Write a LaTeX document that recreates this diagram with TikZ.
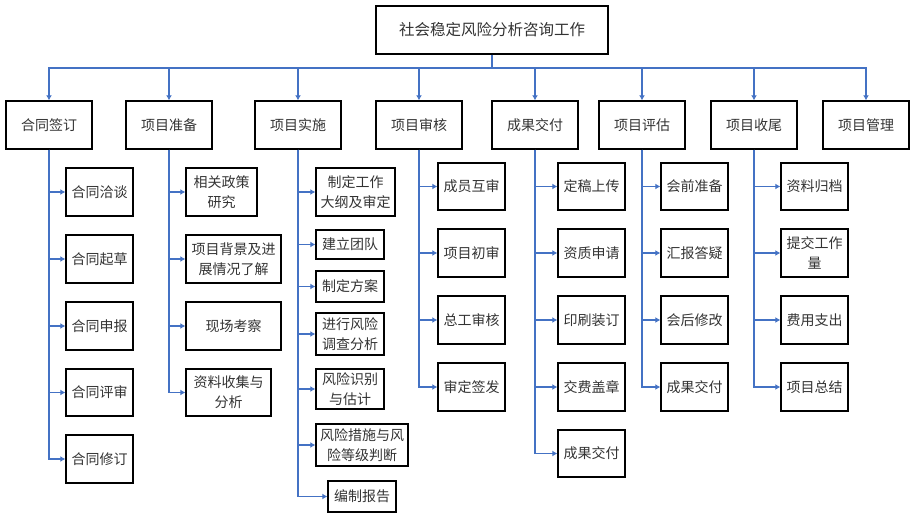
\documentclass[tikz,border=0pt]{standalone}
\usepackage{fontspec}
\setmainfont{Noto Sans CJK SC}
\usetikzlibrary{arrows.meta}

\tikzset{
  box/.style={draw=black, line width=1.4pt, inner sep=0pt, align=center,
    text=black!80, font=\fontsize{14}{20}\selectfont},
  link/.style={draw={rgb,255:red,68;green,114;blue,196}, line width=1.1pt},
  arrow/.style={link, ->}
}

\begin{document}
\begin{tikzpicture}[x=1pt, y=-1pt, >={Latex[length=5pt,width=6pt]}]
  \useasboundingbox (0,0) rectangle (923,518);
  % top
  \node[box, minimum width=232pt, minimum height=48pt, font=\fontsize{15.5}{20}\selectfont] (top) at (492,30) {社会稳定风险分析咨询工作};
  \coordinate (bus) at (492,68);
  % stages
  \node[box, minimum width=86pt, minimum height=48pt] (sign) at (49,125) {合同签订};
  \node[box, minimum width=86pt, minimum height=48pt] (prep) at (169,125) {项目准备};
  \node[box, minimum width=86pt, minimum height=48pt] (impl) at (298,125) {项目实施};
  \node[box, minimum width=86pt, minimum height=48pt] (audit) at (419,125) {项目审核};
  \node[box, minimum width=86pt, minimum height=48pt] (deliv) at (535,125) {成果交付};
  \node[box, minimum width=86pt, minimum height=48pt] (eval) at (642,125) {项目评估};
  \node[box, minimum width=86pt, minimum height=48pt] (close) at (754,125) {项目收尾};
  \node[box, minimum width=86pt, minimum height=48pt] (mgmt) at (866,125) {项目管理};
  \draw[link] (top.south) -- (bus);
  \foreach \s in {sign, prep, impl, audit, deliv, eval, close, mgmt}
    \draw[arrow] (bus) -| (\s.north);
  % 合同签订
  \node[box, minimum width=67pt, minimum height=48pt] (sign1) at (99.5,192) {合同洽谈};
  \node[box, minimum width=67pt, minimum height=48pt] (sign2) at (99.5,259) {合同起草};
  \node[box, minimum width=67pt, minimum height=48pt] (sign3) at (99.5,326) {合同申报};
  \node[box, minimum width=67pt, minimum height=47pt] (sign4) at (99.5,392.5) {合同评审};
  \node[box, minimum width=67pt, minimum height=48pt] (sign5) at (99.5,459) {合同修订};
  \foreach \c in {1,...,5}
    \draw[arrow] (sign.south) |- (sign\c.west);
  % 项目准备
  \node[box, minimum width=71pt, minimum height=48pt] (prep1) at (221.5,192) {相关政策\\研究};
  \node[box, minimum width=95pt, minimum height=48pt] (prep2) at (233.5,259) {项目背景及进\\展情况了解};
  \node[box, minimum width=95pt, minimum height=48pt] (prep3) at (233.5,326) {现场考察};
  \node[box, minimum width=85pt, minimum height=47pt] (prep4) at (228.5,392.5) {资料收集与\\分析};
  \foreach \c in {1,...,4}
    \draw[arrow] (prep.south) |- (prep\c.west);
  % 项目实施
  \node[box, minimum width=79pt, minimum height=48pt] (impl1) at (355.5,192) {制定工作\\大纲及审定};
  \node[box, minimum width=68pt, minimum height=29pt] (impl2) at (350,244.5) {建立团队};
  \node[box, minimum width=68pt, minimum height=31pt] (impl3) at (350,286.5) {制定方案};
  \node[box, minimum width=68pt, minimum height=42pt] (impl4) at (350,334) {进行风险\\调查分析};
  \node[box, minimum width=68pt, minimum height=40pt] (impl5) at (350,389) {风险识别\\与估计};
  \node[box, minimum width=92pt, minimum height=42pt] (impl6) at (362,445) {风险措施与风\\险等级判断};
  \node[box, minimum width=68pt, minimum height=31pt] (impl7) at (362,496.5) {编制报告};
  \foreach \c in {1,...,7}
    \draw[arrow] (impl.south) |- (impl\c.west);
  % 项目审核
  \node[box, minimum width=67pt, minimum height=47pt] (audit1) at (471.5,186.5) {成员互审};
  \node[box, minimum width=67pt, minimum height=48pt] (audit2) at (471.5,253) {项目初审};
  \node[box, minimum width=67pt, minimum height=48pt] (audit3) at (471.5,320) {总工审核};
  \node[box, minimum width=67pt, minimum height=48pt] (audit4) at (471.5,387) {审定签发};
  \foreach \c in {1,...,4}
    \draw[arrow] (audit.south) |- (audit\c.west);
  % 成果交付
  \node[box, minimum width=67pt, minimum height=47pt] (deliv1) at (591.5,186.5) {定稿上传};
  \node[box, minimum width=67pt, minimum height=48pt] (deliv2) at (591.5,253) {资质申请};
  \node[box, minimum width=67pt, minimum height=48pt] (deliv3) at (591.5,320) {印刷装订};
  \node[box, minimum width=67pt, minimum height=48pt] (deliv4) at (591.5,387) {交费盖章};
  \node[box, minimum width=67pt, minimum height=47pt] (deliv5) at (591.5,453.5) {成果交付};
  \foreach \c in {1,...,5}
    \draw[arrow] (deliv.south) |- (deliv\c.west);
  % 项目评估
  \node[box, minimum width=67pt, minimum height=47pt] (eval1) at (694.5,186.5) {会前准备};
  \node[box, minimum width=67pt, minimum height=48pt] (eval2) at (694.5,253) {汇报答疑};
  \node[box, minimum width=67pt, minimum height=48pt] (eval3) at (694.5,320) {会后修改};
  \node[box, minimum width=67pt, minimum height=48pt] (eval4) at (694.5,387) {成果交付};
  \foreach \c in {1,...,4}
    \draw[arrow] (eval.south) |- (eval\c.west);
  % 项目收尾
  \node[box, minimum width=67pt, minimum height=47pt] (close1) at (814.5,186.5) {资料归档};
  \node[box, minimum width=67pt, minimum height=48pt] (close2) at (814.5,253) {提交工作\\量};
  \node[box, minimum width=67pt, minimum height=48pt] (close3) at (814.5,320) {费用支出};
  \node[box, minimum width=67pt, minimum height=48pt] (close4) at (814.5,387) {项目总结};
  \foreach \c in {1,...,4}
    \draw[arrow] (close.south) |- (close\c.west);
\end{tikzpicture}
\end{document}
